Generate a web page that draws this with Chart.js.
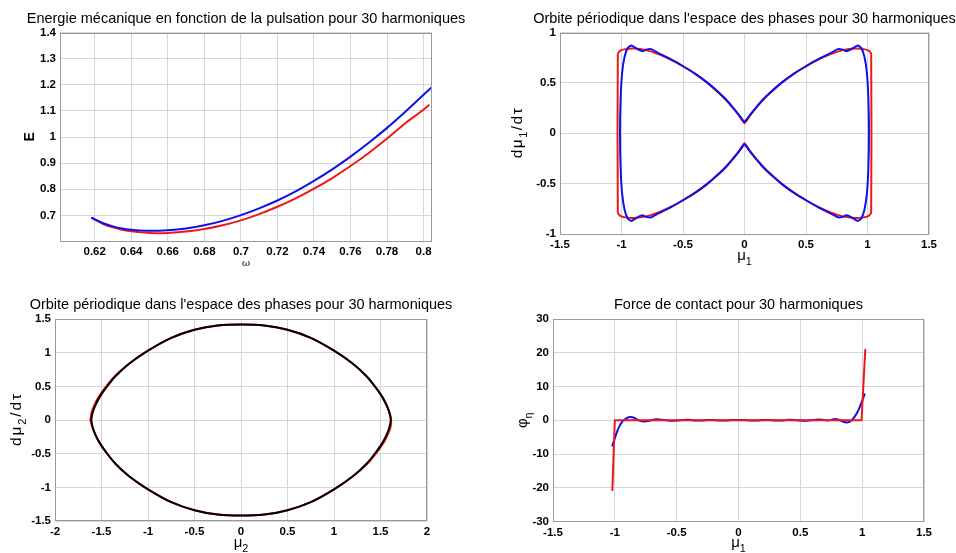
<!DOCTYPE html>
<html><head><meta charset="utf-8">
<script src="https://cdn.jsdelivr.net/npm/chart.js@4.4.0/dist/chart.umd.min.js"></script>
<style>
html,body{margin:0;padding:0;background:#fff;width:956px;height:553px;overflow:hidden}
.box{position:absolute}
</style></head><body>
<div class="box" style="left:0;top:0;width:478px;height:276px"><canvas id="c1"></canvas></div>
<div class="box" style="left:478px;top:0;width:478px;height:276px"><canvas id="c2"></canvas></div>
<div class="box" style="left:0;top:276px;width:478px;height:277px"><canvas id="c3"></canvas></div>
<div class="box" style="left:478px;top:276px;width:478px;height:277px"><canvas id="c4"></canvas></div>
<script>
// ---------- Plot 1 : energy vs pulsation ----------
const omegaBlue = [0.6185,0.625,0.63,0.635,0.64,0.645,0.65,0.66,0.67,0.68,0.69,0.70,0.71,0.72,0.73,0.74,0.75,0.76,0.77,0.78,0.79,0.80,0.8042];
const energyBlue = [0.690,0.669,0.658,0.650,0.645,0.642,0.641,0.643,0.650,0.662,0.679,0.701,0.727,0.757,0.792,0.832,0.876,0.925,0.978,1.035,1.097,1.162,1.189];
const omegaRed = [0.6185,0.625,0.63,0.635,0.64,0.645,0.65,0.655,0.66,0.67,0.68,0.69,0.70,0.71,0.72,0.73,0.74,0.75,0.76,0.77,0.78,0.79,0.80,0.8028];
const energyRed = [0.690,0.666,0.654,0.645,0.639,0.635,0.633,0.632,0.633,0.638,0.648,0.662,0.681,0.705,0.733,0.765,0.802,0.843,0.889,0.939,0.994,1.053,1.105,1.122];
const xTicks1 = [0.62,0.64,0.66,0.68,0.70,0.72,0.74,0.76,0.78,0.80];
const yTicks1 = [0.7,0.8,0.9,1.0,1.1,1.2,1.3,1.4];

// ---------- Plot 2 : phase orbit mu1 ----------
const mu1Red = [0,0.02,0.05,0.1,0.15,0.2,0.3,0.4,0.5,0.6,0.7,0.8,0.9,0.97,1.01,1.03,
  1.03,1.01,0.97,0.9,0.8,0.7,0.6,0.5,0.4,0.3,0.2,0.15,0.1,0.05,0.02,0,
  -0.02,-0.05,-0.1,-0.15,-0.2,-0.3,-0.4,-0.5,-0.6,-0.7,-0.8,-0.9,-0.97,-1.01,-1.03,
  -1.03,-1.01,-0.97,-0.9,-0.8,-0.7,-0.6,-0.5,-0.4,-0.3,-0.2,-0.15,-0.1,-0.05,-0.02,0];
const dmu1Red = [0.10,0.13,0.185,0.26,0.33,0.39,0.50,0.59,0.665,0.73,0.785,0.825,0.84,0.835,0.82,0.79,
  -0.79,-0.82,-0.835,-0.84,-0.825,-0.785,-0.73,-0.665,-0.59,-0.50,-0.39,-0.33,-0.26,-0.185,-0.13,-0.10,
  -0.13,-0.185,-0.26,-0.33,-0.39,-0.50,-0.59,-0.665,-0.73,-0.785,-0.825,-0.84,-0.835,-0.82,-0.79,
  0.79,0.82,0.835,0.84,0.825,0.785,0.73,0.665,0.59,0.50,0.39,0.33,0.26,0.185,0.13,0.10];
const mu1Blue = [0,0.02,0.05,0.1,0.15,0.2,0.3,0.4,0.5,0.6,0.7,0.76,0.8,0.83,0.87,0.92,0.95,0.975,0.995,1.007,1.012,
  1.007,0.995,0.975,0.95,0.92,0.87,0.83,0.8,0.76,0.7,0.6,0.5,0.4,0.3,0.2,0.15,0.1,0.05,0.02,0,
  -0.02,-0.05,-0.1,-0.15,-0.2,-0.3,-0.4,-0.5,-0.6,-0.7,-0.76,-0.8,-0.83,-0.87,-0.92,-0.95,-0.975,-0.995,-1.007,-1.012,
  -1.007,-0.995,-0.975,-0.95,-0.92,-0.87,-0.83,-0.8,-0.76,-0.7,-0.6,-0.5,-0.4,-0.3,-0.2,-0.15,-0.1,-0.05,-0.02,0];
const dmu1Blue = [0.11,0.14,0.19,0.265,0.335,0.395,0.50,0.59,0.665,0.735,0.795,0.835,0.83,0.815,0.835,0.87,0.845,0.76,0.6,0.35,0.0,
  -0.35,-0.6,-0.76,-0.845,-0.87,-0.835,-0.815,-0.83,-0.835,-0.795,-0.735,-0.665,-0.59,-0.50,-0.395,-0.335,-0.265,-0.19,-0.14,-0.11,
  -0.14,-0.19,-0.265,-0.335,-0.395,-0.50,-0.59,-0.665,-0.735,-0.795,-0.835,-0.83,-0.815,-0.835,-0.87,-0.845,-0.76,-0.6,-0.35,0.0,
  0.35,0.6,0.76,0.845,0.87,0.835,0.815,0.83,0.835,0.795,0.735,0.665,0.59,0.50,0.395,0.335,0.265,0.19,0.14,0.11];
const xTicks2 = [-1.5,-1,-0.5,0,0.5,1,1.5];
const yTicks2 = [-1,-0.5,0,0.5,1];

// ---------- Plot 3 : phase orbit mu2 ----------
const mu2Black = [-1.61,-1.595,-1.565,-1.52,-1.45,-1.35,-1.2,-1.0,-0.75,-0.5,-0.25,0,0.25,0.5,0.75,1.0,1.2,1.35,1.45,1.52,1.565,1.595,1.61,
  1.595,1.565,1.52,1.45,1.35,1.2,1.0,0.75,0.5,0.25,0,-0.25,-0.5,-0.75,-1.0,-1.2,-1.35,-1.45,-1.52,-1.565,-1.595,-1.61];
const dmu2Black = [0,0.11,0.22,0.34,0.48,0.65,0.84,1.03,1.22,1.34,1.405,1.42,1.405,1.34,1.22,1.03,0.84,0.65,0.48,0.34,0.22,0.11,0,
  -0.11,-0.22,-0.34,-0.48,-0.65,-0.84,-1.03,-1.22,-1.34,-1.405,-1.42,-1.405,-1.34,-1.22,-1.03,-0.84,-0.65,-0.48,-0.34,-0.22,-0.11,0];
const mu2Red = [-1.62,-1.607,-1.577,-1.532,-1.46,-1.357,-1.2,-1.0,-0.75,-0.5,-0.25,0,0.25,0.5,0.75,1.0,1.2,1.35,1.45,1.52,1.565,1.597,1.615,
  1.607,1.577,1.532,1.46,1.357,1.2,1.0,0.75,0.5,0.25,0,-0.25,-0.5,-0.75,-1.0,-1.2,-1.35,-1.45,-1.52,-1.565,-1.597,-1.62];
const dmu2Red = [0,0.11,0.22,0.34,0.48,0.65,0.84,1.03,1.22,1.34,1.405,1.42,1.405,1.34,1.22,1.03,0.84,0.65,0.48,0.34,0.22,0.11,0,
  -0.11,-0.22,-0.34,-0.48,-0.65,-0.84,-1.03,-1.22,-1.34,-1.405,-1.42,-1.405,-1.34,-1.22,-1.03,-0.84,-0.65,-0.48,-0.34,-0.22,-0.11,0];
const xTicks3 = [-2,-1.5,-1,-0.5,0,0.5,1,1.5,2];
const yTicks3 = [-1.5,-1,-0.5,0,0.5,1,1.5];

// ---------- Plot 4 : contact force ----------
const mu1Force = [-1.02,-1.0,-0.98,-0.96,-0.94,-0.91,-0.88,-0.85,-0.82,-0.79,-0.76,-0.72,-0.68,-0.64,-0.6,-0.55,-0.5,-0.45,-0.4,-0.35,-0.3,-0.25,-0.2,-0.15,-0.1,-0.05,0,
  0.05,0.1,0.15,0.2,0.25,0.3,0.35,0.4,0.45,0.5,0.55,0.6,0.64,0.68,0.72,0.75,0.78,0.81,0.84,0.87,0.9,0.93,0.96,0.99,1.02];
const forceBlue = [-7.5,-5.3,-3.2,-1.6,-0.4,0.5,0.95,0.8,0.2,-0.25,-0.35,-0.15,0.2,0.25,0.05,-0.15,-0.1,0.1,0.12,-0.05,-0.1,0.05,0.1,-0.05,-0.1,0.05,0.1,
  0.05,-0.1,-0.05,0.1,0.05,-0.1,-0.05,0.12,0.1,-0.1,-0.15,0.05,0.2,0.15,-0.1,0.1,0.35,0.15,-0.35,-0.65,-0.4,0.6,2.3,4.8,7.7];
const mu1Step = [-1.02,-1.0,0.995,1.025];
const forceRed = [-20.7,0,0,20.9];
const xTicks4 = [-1.5,-1,-0.5,0,0.5,1,1.5];
const yTicks4 = [-30,-20,-10,0,10,20,30];

// ---------- helpers ----------
const FONT = "'Liberation Sans', Arial, Helvetica, sans-serif";
const BLUE = 'rgb(16,16,235)', RED = 'rgb(238,24,24)', BLACK = '#000';
const pts = (xs, ys) => xs.map((x, i) => ({x: x, y: ys[i]}));
const fmt = v => String(Math.round(v * 1000) / 1000);

function axis(tickVals, min, max, size, isX) {
  return {
    type: 'linear', min: min, max: max,
    afterBuildTicks: s => { s.ticks = tickVals.map(v => ({value: v})); },
    afterFit: s => { if (isX) s.height = size; else s.width = size; },
    grid: {color: '#d6d6d6', lineWidth: 1, drawTicks: false},
    border: {display: false},
    ticks: {color: '#000', font: {family: FONT, size: 11.5, weight: 'bold'}, padding: 4,
            autoSkip: false, maxRotation: 0, callback: v => fmt(v)}
  };
}

function fontOf(p, size) {
  if (p.serif) return size + "px 'DejaVu Serif', 'Liberation Serif', serif";
  return (p.bold ? 'bold ' : '') + size + 'px ' + FONT;
}
function drawRich(ctx, lab, x, y, rot) {
  const chars = [];
  lab.parts.forEach(p => {
    const sz = p.sub ? lab.size * 0.72 : lab.size;
    for (const ch of p.t) chars.push({ch: ch, font: fontOf(p, sz), sub: !!p.sub});
  });
  let total = 0;
  chars.forEach(c => { ctx.font = c.font; c.w = ctx.measureText(c.ch).width; total += c.w; });
  let gap = 0;
  if (lab.len && chars.length > 1) gap = Math.max(0, (lab.len - total) / (chars.length - 1));
  const full = total + gap * (chars.length - 1);
  ctx.save();
  ctx.translate(x, y); ctx.rotate(rot);
  ctx.textBaseline = 'middle'; ctx.textAlign = 'left'; ctx.fillStyle = '#000';
  let cx = -full / 2;
  chars.forEach(c => {
    ctx.font = c.font;
    ctx.fillText(c.ch, cx, c.sub ? lab.size * 0.38 : 0);
    cx += c.w + gap;
  });
  ctx.restore();
}

const decor = {
  id: 'decor',
  afterDraw(chart, args, o) {
    const ctx = chart.ctx, a = chart.chartArea;
    ctx.save();
    ctx.strokeStyle = '#9a9a9a'; ctx.lineWidth = 1;
    ctx.strokeRect(Math.round(a.left) + 0.5, Math.round(a.top) + 0.5,
                   Math.round(a.right - a.left) - 1, Math.round(a.bottom - a.top) - 1);
    ctx.fillStyle = '#000';
    ctx.font = '14.5px ' + FONT;
    ctx.textAlign = 'center'; ctx.textBaseline = 'alphabetic';
    ctx.fillText(o.title, (a.left + a.right) / 2, a.top - o.titleGap);
    drawRich(ctx, o.yLabel, a.left + o.yLabel.dx, (a.top + a.bottom) / 2, -Math.PI / 2);
    drawRich(ctx, o.xLabel, (a.left + a.right) / 2, a.bottom + o.xLabel.dy, 0);
    ctx.restore();
  }
};

function build(id, c) {
  const canvas = document.getElementById(id);
  const W = canvas.parentNode.clientWidth, H = canvas.parentNode.clientHeight;
  return new Chart(canvas, {
    type: 'scatter',
    data: {datasets: c.datasets},
    options: {
      responsive: true, maintainAspectRatio: false, animation: false,
      layout: {padding: {left: 0, top: c.area.t, right: W - c.area.r, bottom: 0}},
      plugins: {legend: {display: false}, tooltip: {enabled: false}, title: {display: false}, decor: c.decor},
      scales: {
        x: axis(c.xTicks, c.xMin, c.xMax, H - c.area.b, true),
        y: axis(c.yTicks, c.yMin, c.yMax, c.area.l, false)
      },
      elements: {point: {radius: 0, hoverRadius: 0}, line: {borderJoinStyle: 'round', borderCapStyle: 'round'}}
    },
    plugins: [decor]
  });
}
function line(data, color, extra) {
  return Object.assign({data: data, showLine: true, borderColor: color, backgroundColor: color,
    borderWidth: 2, pointRadius: 0, fill: false, tension: 0.25}, extra || {});
}

build('c1', {
  area: {l: 60, t: 32.5, r: 432, b: 241},
  xMin: 0.601, xMax: 0.8046, yMin: 0.602, yMax: 1.4, xTicks: xTicks1, yTicks: yTicks1,
  datasets: [
    line(pts(omegaBlue, energyBlue), BLUE, {cubicInterpolationMode: 'monotone'}),
    line(pts(omegaRed, energyRed), RED, {cubicInterpolationMode: 'monotone'})
  ],
  decor: {title: 'Energie mécanique en fonction de la pulsation pour 30 harmoniques', titleGap: 9.5,
    yLabel: {parts: [{t: 'E', bold: true}], size: 14, dx: -30},
    xLabel: {parts: [{t: 'ω', serif: true}], size: 10, dy: 22}}
});

build('c2', {
  area: {l: 82, t: 32.5, r: 451, b: 234},
  xMin: -1.5, xMax: 1.5, yMin: -1, yMax: 1, xTicks: xTicks2, yTicks: yTicks2,
  datasets: [
    line(pts(mu1Blue, dmu1Blue), BLUE, {tension: 0.2}),
    line(pts(mu1Red, dmu1Red), RED, {tension: 0.15})
  ],
  decor: {title: "Orbite périodique dans l'espace des phases pour 30 harmoniques", titleGap: 9.5,
    yLabel: {parts: [{t: 'dμ'}, {t: '1', sub: true}, {t: '/dτ'}], size: 15.5, dx: -42, len: 50},
    xLabel: {parts: [{t: 'μ'}, {t: '1', sub: true}], size: 15, dy: 22}}
});

build('c3', {
  area: {l: 55, t: 43, r: 427, b: 245},
  xMin: -2, xMax: 2, yMin: -1.5, yMax: 1.5, xTicks: xTicks3, yTicks: yTicks3,
  datasets: [
    line(pts(mu2Black, dmu2Black), BLACK, {tension: 0.3}),
    line(pts(mu2Red, dmu2Red), RED, {tension: 0.3})
  ],
  decor: {title: "Orbite périodique dans l'espace des phases pour 30 harmoniques", titleGap: 10,
    yLabel: {parts: [{t: 'dμ'}, {t: '2', sub: true}, {t: '/dτ'}], size: 15.5, dx: -38, len: 52},
    xLabel: {parts: [{t: 'μ'}, {t: '2', sub: true}], size: 15, dy: 22}}
});

build('c4', {
  area: {l: 75, t: 43, r: 446, b: 245.5},
  xMin: -1.5, xMax: 1.5, yMin: -30, yMax: 30, xTicks: xTicks4, yTicks: yTicks4,
  datasets: [
    line(pts(mu1Step, forceRed), RED, {tension: 0}),
    line(pts(mu1Force, forceBlue), BLUE, {tension: 0.3})
  ],
  decor: {title: 'Force de contact pour 30 harmoniques', titleGap: 10,
    yLabel: {parts: [{t: 'φ'}, {t: 'η', sub: true}], size: 15, dx: -30},
    xLabel: {parts: [{t: 'μ'}, {t: '1', sub: true}], size: 15, dy: 21.5}}
});
</script>
</body></html>
